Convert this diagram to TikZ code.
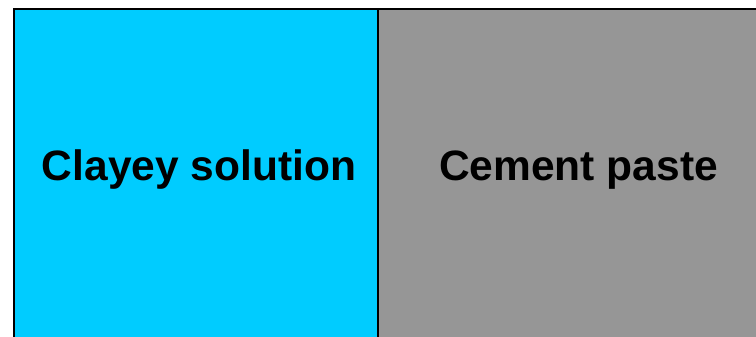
\documentclass[tikz,border=0pt]{standalone}
\usepackage{fontspec}
\setmainfont{Liberation Sans}
\usepackage{tikz}
\definecolor{clayey}{RGB}{0, 204, 255}
\definecolor{cement}{RGB}{150, 150, 150}

\begin{document}
\begin{tikzpicture}[
    x=1pt, y=-1pt,
    layer/.style={draw=black, line width=2pt, fill=#1},
    label/.style={font=\fontsize{42.5}{50}\selectfont\bfseries, text=black, anchor=base},
  ]
  \useasboundingbox (0,0) rectangle (756,337);
  \clip (0,0) rectangle (756,337);

  % Two materials side by side
  \draw[layer=clayey] (13.5,9) rectangle (378,360);
  \draw[layer=cement] (378,9) rectangle (790,360);

  \node[label] (clay) at (199,180) {Clayey solution};
  \node[label] (paste) at (578.5,180) {Cement paste};
\end{tikzpicture}
\end{document}
